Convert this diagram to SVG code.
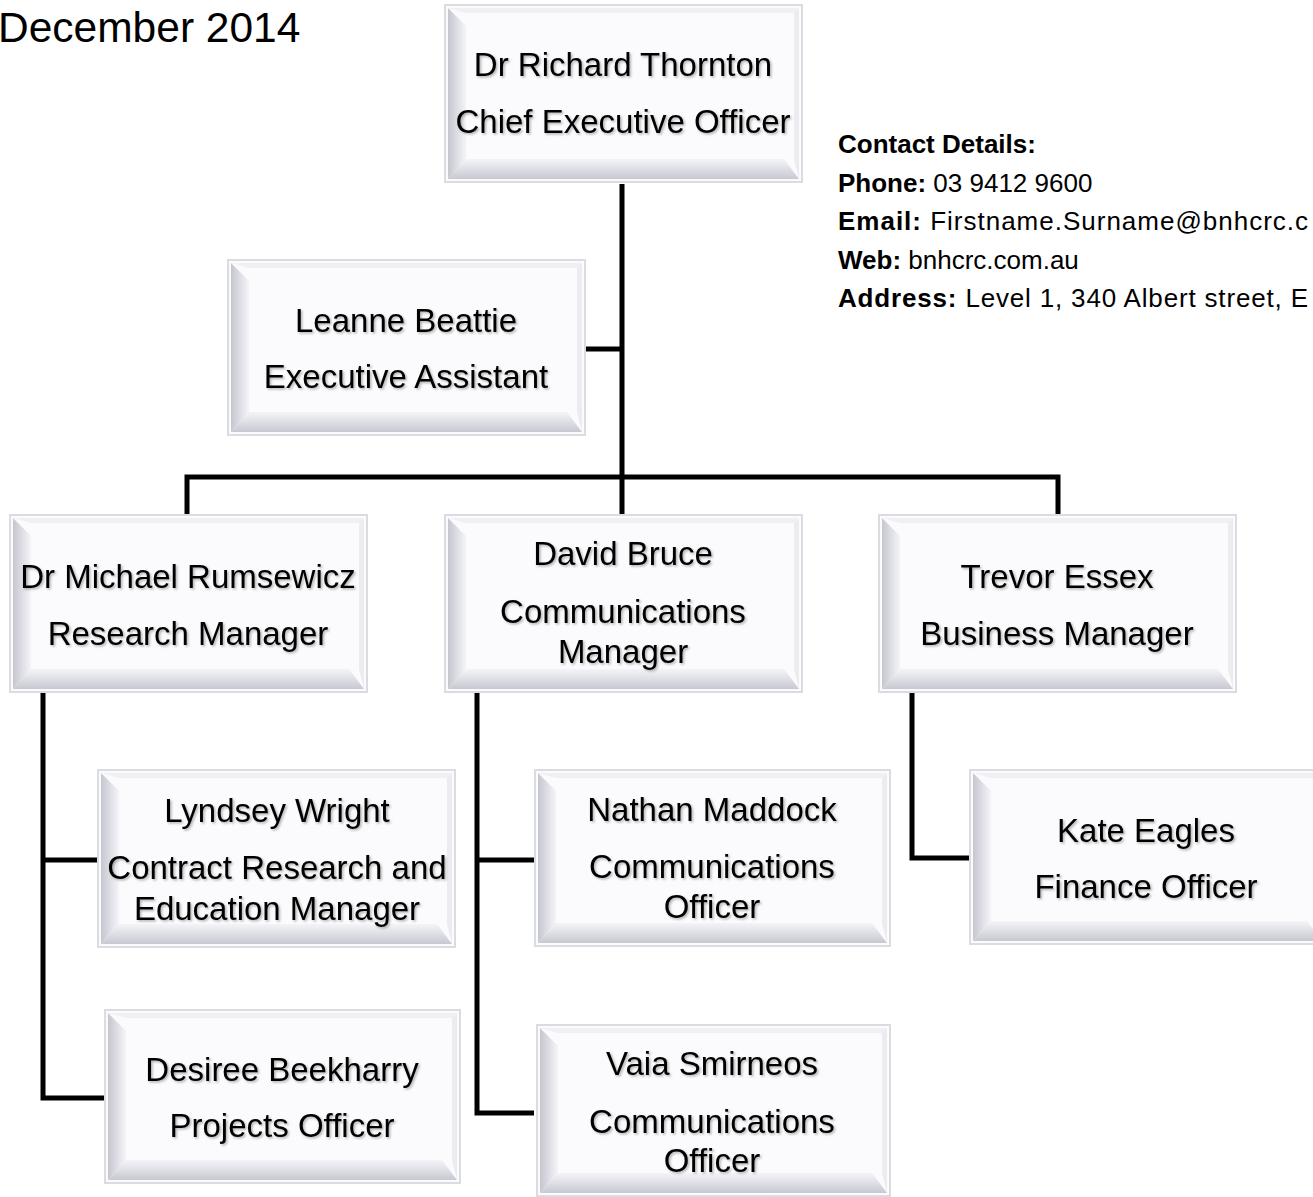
<svg xmlns="http://www.w3.org/2000/svg" width="1313" height="1197" viewBox="0 0 1313 1197">
<defs>
  <linearGradient id="gl" x1="0" y1="0" x2="1" y2="0">
    <stop offset="0" stop-color="#c6c6d0"/>
    <stop offset="1" stop-color="#f4f4f8"/>
  </linearGradient>
  <linearGradient id="gb" x1="0" y1="0" x2="0" y2="1">
    <stop offset="0" stop-color="#f4f4f8"/>
    <stop offset="1" stop-color="#c8c8d2"/>
  </linearGradient>
  <filter id="ts" x="-5%" y="-20%" width="110%" height="150%">
    <feDropShadow dx="1.5" dy="1.5" stdDeviation="1" flood-color="#000" flood-opacity="0.3"/>
  </filter>
</defs>
<style>
  .frame{fill:#fbfbfd;stroke:#d9dce0;stroke-width:2}
  .bl{fill:url(#gl)}
  .bb{fill:url(#gb)}
  .bt{fill:#f0f0f4}
  .br{fill:#ebebf0}
  .t{font-family:"Liberation Sans",Arial,sans-serif;font-size:33px;fill:#000;text-anchor:middle;filter:url(#ts)}
  .c{font-family:"Liberation Sans",Arial,sans-serif;font-size:26px;fill:#000}
  .b{font-weight:bold}
  .conn{fill:none;stroke:#000;stroke-width:5;stroke-linejoin:miter}
</style>
<rect width="1313" height="1197" fill="#fff"/>

<text x="-2" y="42" font-family="Liberation Sans, Arial, sans-serif" font-size="42.5" fill="#000">December 2014</text>

<g id="contact" class="c">
  <text x="838" y="153" class="b">Contact Details:</text>
  <text x="838" y="192"><tspan class="b">Phone:</tspan> 03 9412 9600</text>
  <text x="838" y="230" textLength="470" lengthAdjust="spacing"><tspan class="b">Email:</tspan> Firstname.Surname@bnhcrc.c</text>
  <text x="838" y="269"><tspan class="b">Web:</tspan> bnhcrc.com.au</text>
  <text x="838" y="307" textLength="470" lengthAdjust="spacing"><tspan class="b">Address:</tspan> Level 1, 340 Albert street, E</text>
</g>

<g id="connectors">
  <path class="conn" d="M622,184 V515"/>
  <path class="conn" d="M584,349 H622"/>
  <path class="conn" d="M187,515 V477 H1058 V515"/>
  <path class="conn" d="M43,692 V1098 H104"/>
  <path class="conn" d="M43,860 H98"/>
  <path class="conn" d="M477,692 V1113 H534"/>
  <path class="conn" d="M477,860 H534"/>
  <path class="conn" d="M912,692 V858 H969"/>
</g>

<g id="ceo">
  <rect class="frame" x="445" y="5" width="357" height="177"/>
  <polygon class="bt" points="448,8 799,8 794,13 466,13"/>
  <polygon class="br" points="799,8 799,179 794,159 794,13"/>
  <polygon class="bl" points="448,8 466,26 466,159 448,179"/>
  <polygon class="bb" points="448,179 466,159 784,159 799,179"/>
  <text class="t" x="623" y="76">Dr Richard Thornton</text>
  <text class="t" x="623" y="133">Chief Executive Officer</text>
</g>

<g id="leanne">
  <rect class="frame" x="228" y="260" width="357" height="175"/>
  <polygon class="bt" points="231,263 582,263 577,268 249,268"/>
  <polygon class="br" points="582,263 582,432 577,412 577,268"/>
  <polygon class="bl" points="231,263 249,281 249,412 231,432"/>
  <polygon class="bb" points="231,432 249,412 567,412 582,432"/>
  <text class="t" x="406" y="332">Leanne Beattie</text>
  <text class="t" x="406" y="388">Executive Assistant</text>
</g>

<g id="rumsewicz">
  <rect class="frame" x="10" y="515" width="357" height="177"/>
  <polygon class="bt" points="13,518 364,518 359,523 31,523"/>
  <polygon class="br" points="364,518 364,689 359,669 359,523"/>
  <polygon class="bl" points="13,518 31,536 31,669 13,689"/>
  <polygon class="bb" points="13,689 31,669 349,669 364,689"/>
  <text class="t" x="188" y="588">Dr Michael Rumsewicz</text>
  <text class="t" x="188" y="645">Research Manager</text>
</g>

<g id="bruce">
  <rect class="frame" x="445" y="515" width="357" height="177"/>
  <polygon class="bt" points="448,518 799,518 794,523 466,523"/>
  <polygon class="br" points="799,518 799,689 794,669 794,523"/>
  <polygon class="bl" points="448,518 466,536 466,669 448,689"/>
  <polygon class="bb" points="448,689 466,669 784,669 799,689"/>
  <text class="t" x="623" y="565">David Bruce</text>
  <text class="t" x="623" y="623">Communications</text>
  <text class="t" x="623" y="663">Manager</text>
</g>

<g id="essex">
  <rect class="frame" x="879" y="515" width="357" height="177"/>
  <polygon class="bt" points="882,518 1233,518 1228,523 900,523"/>
  <polygon class="br" points="1233,518 1233,689 1228,669 1228,523"/>
  <polygon class="bl" points="882,518 900,536 900,669 882,689"/>
  <polygon class="bb" points="882,689 900,669 1218,669 1233,689"/>
  <text class="t" x="1057" y="588">Trevor Essex</text>
  <text class="t" x="1057" y="645">Business Manager</text>
</g>

<g id="wright">
  <rect class="frame" x="98" y="770" width="357" height="177"/>
  <polygon class="bt" points="101,773 452,773 447,778 119,778"/>
  <polygon class="br" points="452,773 452,944 447,924 447,778"/>
  <polygon class="bl" points="101,773 119,791 119,924 101,944"/>
  <polygon class="bb" points="101,944 119,924 437,924 452,944"/>
  <text class="t" x="277" y="822">Lyndsey Wright</text>
  <text class="t" x="277" y="879">Contract Research and</text>
  <text class="t" x="277" y="920">Education Manager</text>
</g>

<g id="beekharry">
  <rect class="frame" x="105" y="1010" width="355" height="173"/>
  <polygon class="bt" points="108,1013 457,1013 452,1018 126,1018"/>
  <polygon class="br" points="457,1013 457,1180 452,1160 452,1018"/>
  <polygon class="bl" points="108,1013 126,1031 126,1160 108,1180"/>
  <polygon class="bb" points="108,1180 126,1160 442,1160 457,1180"/>
  <text class="t" x="282" y="1081">Desiree Beekharry</text>
  <text class="t" x="282" y="1137">Projects Officer</text>
</g>

<g id="maddock">
  <rect class="frame" x="535" y="770" width="355" height="176"/>
  <polygon class="bt" points="538,773 887,773 882,778 556,778"/>
  <polygon class="br" points="887,773 887,943 882,923 882,778"/>
  <polygon class="bl" points="538,773 556,791 556,923 538,943"/>
  <polygon class="bb" points="538,943 556,923 872,923 887,943"/>
  <text class="t" x="712" y="821">Nathan Maddock</text>
  <text class="t" x="712" y="878">Communications</text>
  <text class="t" x="712" y="918">Officer</text>
</g>

<g id="smirneos">
  <rect class="frame" x="537" y="1025" width="353" height="171"/>
  <polygon class="bt" points="540,1028 887,1028 882,1033 558,1033"/>
  <polygon class="br" points="887,1028 887,1193 882,1173 882,1033"/>
  <polygon class="bl" points="540,1028 558,1046 558,1173 540,1193"/>
  <polygon class="bb" points="540,1193 558,1173 872,1173 887,1193"/>
  <text class="t" x="712" y="1075">Vaia Smirneos</text>
  <text class="t" x="712" y="1133">Communications</text>
  <text class="t" x="712" y="1172">Officer</text>
</g>

<g id="eagles">
  <rect class="frame" x="970" y="770" width="355" height="174"/>
  <polygon class="bt" points="973,773 1322,773 1317,778 991,778"/>
  <polygon class="br" points="1322,773 1322,941 1317,921 1317,778"/>
  <polygon class="bl" points="973,773 991,791 991,921 973,941"/>
  <polygon class="bb" points="973,941 991,921 1307,921 1322,941"/>
  <text class="t" x="1146" y="842">Kate Eagles</text>
  <text class="t" x="1146" y="898">Finance Officer</text>
</g>
</svg>
